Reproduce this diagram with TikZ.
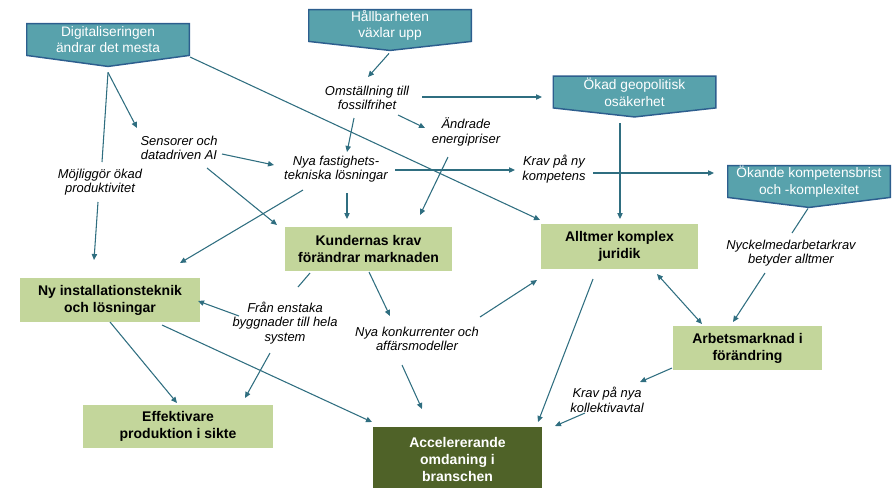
\documentclass[tikz,border=0pt]{standalone}
\usepackage{fontspec}
\setmainfont{Liberation Sans}
\usetikzlibrary{arrows.meta,calc,backgrounds}
\definecolor{tealfill}{HTML}{58A2AC}
\definecolor{tealline}{HTML}{2D5E8E}
\definecolor{greenfill}{HTML}{C3D69B}
\definecolor{darkgreen}{HTML}{4F6228}
\definecolor{arrcol}{HTML}{2F6E80}
\begin{document}
\begin{tikzpicture}[x=0.75pt,y=-0.75pt,
  callout/.style={text=white, align=center, inner sep=0pt,
    font=\fontsize{10.3}{12.5}\selectfont, minimum width=121.5pt, minimum height=23.5pt},
  calloutshape/.style={fill=tealfill, draw=tealline, line width=1.1pt, line join=miter},
  gbox/.style={fill=greenfill, align=center, inner sep=0pt,
    font=\fontsize{10.5}{12.8}\selectfont\bfseries},
  lbl/.style={align=center, inner sep=0pt, font=\fontsize{9.7}{11}\selectfont\itshape},
  arr/.style={draw=arrcol, line width=0.8pt, -{Triangle[length=4.5pt,width=4pt]}},
  ln/.style={draw=arrcol, line width=0.8pt},
  darr/.style={draw=arrcol, line width=0.8pt, {Triangle[length=4.5pt,width=4pt]}-{Triangle[length=4.5pt,width=4pt]}}
]
\useasboundingbox (0,0) rectangle (895,487);

% callouts
\node[callout] (dig) at (108,39.5) {Digitaliseringen\\ändrar det mesta};
\node[callout] (hall) at (390,25.5) {Hållbarheten\\växlar upp};
\node[callout] (geo) at (634.5,92) {Ökad geopolitisk\\osäkerhet};
\node[callout] (oka) at (809,181.5) {Ökande kompetensbrist\\och -komplexitet};
\coordinate (dig tip) at ($(dig.south)+(0,11)$);
\coordinate (hall tip) at ($(hall.south)+(0,9)$);
\coordinate (geo tip) at ($(geo.south)+(0,9)$);
\coordinate (oka tip) at ($(oka.south)+(0,10)$);
\begin{scope}[on background layer]
\foreach \n in {dig,hall,geo,oka}
  \draw[calloutshape] (\n.north west) -- (\n.north east) -- (\n.south east) -- (\n\space tip) -- (\n.south west) -- cycle;
\end{scope}

% green boxes
\node[gbox, minimum width=125pt, minimum height=33pt] (kund) at (368.5,249) {Kundernas krav\\förändrar marknaden};
\node[gbox, minimum width=135pt, minimum height=33pt] (nyinst) at (110,300) {Ny installationsteknik\\och lösningar};
\node[gbox, minimum width=118pt, minimum height=34pt] (jur) at (619.5,246.5) {Alltmer komplex\\juridik};
\node[gbox, minimum width=112pt, minimum height=33pt] (arb) at (747.5,348) {Arbetsmarknad i\\förändring};
\node[gbox, minimum width=142.5pt, minimum height=32pt] (eff) at (178,426.5) {Effektivare\\produktion i sikte};
\node[gbox, fill=darkgreen, text=white, minimum width=127pt, minimum height=49pt] (acc) at (457.5,459.5) {Accelererande\\omdaning i\\branschen};

% labels
\node[lbl] (sens) at (179,148) {Sensorer och\\datadriven AI};
\node[lbl] (moj) at (100,182) {Möjliggör ökad\\produktivitet};
\node[lbl] (omst) at (367,98) {Omställning till\\fossilfrihet};
\node[lbl] (andr) at (466,132) {Ändrade\\energipriser};
\node[lbl] (nyfast) at (336,169) {Nya fastighets-\\tekniska lösningar};
\node[lbl] (kravny) at (554,169) {Krav på ny\\kompetens};
\node[lbl] (nyck) at (791,253) {Nyckelmedarbetarkrav\\betyder alltmer};
\node[lbl] (fran) at (285,323) {Från enstaka\\byggnader till hela\\system};
\node[lbl] (nyak) at (417,339) {Nya konkurrenter och\\affärsmodeller};
\node[lbl] (kravnya) at (607,400) {Krav på nya\\kollektivavtal};

% connectors
\draw[arr] ($(dig tip)+(0,6)$) -- ($(sens)+(-42,-20)$);
\draw[ln] ($(dig tip)+(0,6)$) -- ($(moj)+(2,-20)$);
\draw[arr] ($(moj)+(-2,20)$) -- ($(nyinst)+(-16,-40)$);
\draw[arr] ($(dig)+(82,17.5)$) -- ($(jur)+(-79.5,-26.5)$);
\draw[arr] ($(sens)+(43,6)$) -- ($(nyfast)+(-62,-4)$);
\draw[arr] ($(sens)+(28,20)$) -- ($(kund)+(-91.5,-24)$);
\draw[arr] ($(hall tip)+(-1,3)$) -- ($(omst)+(1,-21)$);
\draw[arr] ($(omst)+(55,-1)$) -- ($(geo)+(-92.5,5)$);
\draw[arr] ($(omst)+(31,17)$) -- ($(andr)+(-41,-4)$);
\draw[arr] ($(omst)+(-13,20)$) -- ($(nyfast)+(11,-17)$);
\draw[arr] ($(andr)+(-18,25)$) -- ($(kund)+(51.5,-34)$);
\draw[arr] ($(nyfast)+(59,1)$) -- ($(kravny)+(-39,1)$);
\draw[arr] ($(nyfast)+(11,24)$) -- ($(kund)+(-21.5,-30)$);
\draw[arr] ($(nyfast)+(-33,21)$) -- ($(nyinst)+(70,-37)$);
\draw[arr] ($(geo)+(-14.5,31)$) -- ($(jur)+(0.5,-27.5)$);
\draw[arr] ($(kravny)+(39,4)$) -- ($(oka)+(-95,-8.5)$);
\draw[ln] ($(oka tip)+(-1,1)$) -- ($(nyck)+(1,-20)$);
\draw[arr] ($(nyck)+(-26,20)$) -- ($(arb)+(-14.5,-26)$);
\draw[darr] ($(jur)+(37.5,27.5)$) -- ($(arb)+(-45.5,-24)$);
\draw[arr] ($(jur)+(-26.5,32.5)$) -- ($(acc)+(80.5,-37.5)$);
\draw[arr] ($(nyak)+(63,-22)$) -- ($(jur)+(-82.5,33.5)$);
\draw[arr] ($(kund)+(0.5,23)$) -- ($(nyak)+(-27,-23)$);
\draw[ln] ($(kund)+(-58.5,24)$) -- ($(fran)+(13,-36)$);
\draw[arr] ($(fran)+(-46,-7)$) -- ($(nyinst)+(88,1)$);
\draw[arr] ($(fran)+(-15,30)$) -- ($(eff)+(67,-28.5)$);
\draw[arr] ($(nyinst)+(0,22)$) -- ($(eff)+(-1,-23.5)$);
\draw[arr] ($(nyinst)+(52,25)$) -- ($(acc)+(-85.5,-37.5)$);
\draw[arr] ($(nyak)+(-15,26)$) -- ($(acc)+(-35.5,-50.5)$);
\draw[arr] ($(arb)+(-75.5,20)$) -- ($(kravnya)+(33,-18)$);
\draw[arr] ($(kravnya)+(-22,13)$) -- ($(acc)+(97.5,-33.5)$);
\end{tikzpicture}
\end{document}
